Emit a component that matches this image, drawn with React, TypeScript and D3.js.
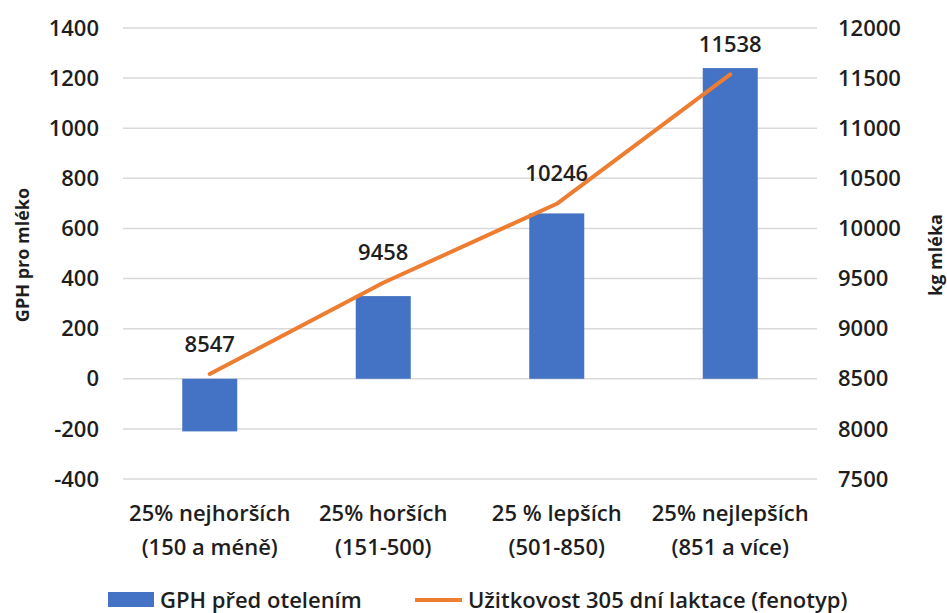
import * as d3 from "d3"

const categories = [
  ["25% nejhorších", "(150 a méně)"],
  ["25% horších", "(151-500)"],
  ["25 % lepších", "(501-850)"],
  ["25% nejlepších", "(851 a více)"],
]
const gphValues = [-210, 330, 660, 1240]
const milkValues = [8547, 9458, 10246, 11538]
const leftTicks = [-400, -200, 0, 200, 400, 600, 800, 1000, 1200, 1400]
const rightTicks = [7500, 8000, 8500, 9000, 9500, 10000, 10500, 11000, 11500, 12000]

const W = 947
const H = 613
const margin = { top: 28, right: 130, bottom: 134, left: 123 }
const FONT = "'Open Sans', sans-serif"
const TEXT = "#1e1e1e"

export default function App() {
  const innerW = W - margin.left - margin.right
  const innerH = H - margin.top - margin.bottom

  const x = d3
    .scaleBand<number>()
    .domain(d3.range(categories.length))
    .range([margin.left, margin.left + innerW])
    .paddingInner(0.683)
    .paddingOuter(0.3415)
  const yLeft = d3.scaleLinear().domain([-400, 1400]).range([margin.top + innerH, margin.top])
  const yRight = d3.scaleLinear().domain([7500, 12000]).range([margin.top + innerH, margin.top])

  const cx = (i: number) => x(i)! + x.bandwidth() / 2
  const line = d3
    .line<number>()
    .x((_, i) => cx(i))
    .y((d) => yRight(d))

  return (
    <svg width={W} height={H} style={{ position: "absolute", left: 0, top: 0, background: "#fff" }} fontFamily={FONT}>
      {/* grid */}
      {leftTicks.map((t) => (
        <line key={t} x1={margin.left} x2={margin.left + innerW} y1={yLeft(t)} y2={yLeft(t)} stroke="#d9d9d9" strokeWidth={1.5} />
      ))}

      {/* left axis */}
      {leftTicks.map((t) => (
        <text key={t} x={99} y={yLeft(t)} dy="0.35em" textAnchor="end" fontSize={22} fontWeight={600} fill={TEXT}>
          {t}
        </text>
      ))}
      {/* right axis */}
      {rightTicks.map((t) => (
        <text key={t} x={838} y={yRight(t)} dy="0.35em" textAnchor="start" fontSize={22} fontWeight={600} fill={TEXT}>
          {t}
        </text>
      ))}

      <text transform={`translate(23,255) rotate(-90)`} dy="0.35em" textAnchor="middle" fontSize={18} fontWeight={700} fill={TEXT}>
        GPH pro mléko
      </text>
      <text transform={`translate(936,255) rotate(-90)`} dy="0.35em" textAnchor="middle" fontSize={18} fontWeight={700} fill={TEXT}>
        kg mléka
      </text>

      {/* bars */}
      {gphValues.map((v, i) => (
        <rect
          key={i}
          x={x(i)}
          y={yLeft(Math.max(0, v))}
          width={x.bandwidth()}
          height={Math.abs(yLeft(v) - yLeft(0))}
          fill="#4472c4"
        />
      ))}

      {/* line */}
      <path d={line(milkValues)!} fill="none" stroke="#ed7d31" strokeWidth={4} strokeLinecap="round" strokeLinejoin="round" />
      {milkValues.map((v, i) => (
        <text key={i} x={cx(i)} y={yRight(v) - 30} dy="0.35em" textAnchor="middle" fontSize={22} fontWeight={600} fill={TEXT}>
          {v}
        </text>
      ))}

      {/* category labels */}
      {categories.map((c, i) => (
        <text key={i} x={cx(i)} textAnchor="middle" fontSize={22} fontWeight={600} fill={TEXT}>
          <tspan x={cx(i)} y={521}>{c[0]}</tspan>
          <tspan x={cx(i)} y={555}>{c[1]}</tspan>
        </text>
      ))}

      {/* legend */}
      <rect x={108} y={592} width={46} height={15} fill="#4472c4" />
      <text x={160} y={600} dy="0.35em" fontSize={22} fontWeight={600} fill={TEXT}>
        GPH před otelením
      </text>
      <line x1={415} x2={462} y1={600} y2={600} stroke="#ed7d31" strokeWidth={4} />
      <text x={468} y={600} dy="0.35em" fontSize={22} fontWeight={600} fill={TEXT}>
        Užitkovost 305 dní laktace (fenotyp)
      </text>
    </svg>
  )
}
